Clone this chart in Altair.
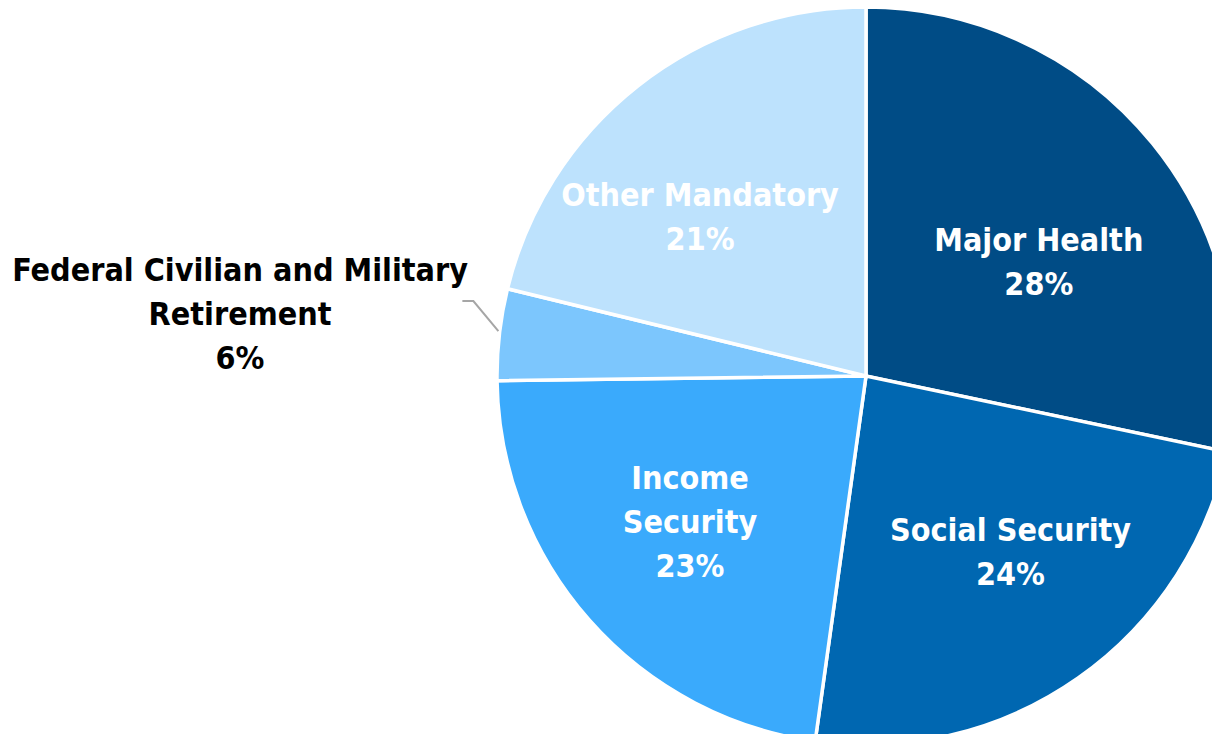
import altair as alt
import pandas as pd
import math

categories = ["Major Health", "Social Security", "Income Security",
              "Federal Civilian and Military Retirement", "Other Mandatory"]
values = [28.3, 23.9, 22.6, 4.0, 21.2]
label_text = ["Major Health\n28%", "Social Security\n24%", "Income\nSecurity\n23%",
              "Federal Civilian and Military\nRetirement\n6%", "Other Mandatory\n21%"]
colors = ["#004c86", "#0067b1", "#3aaafc", "#7cc6fd", "#bde2fd"]

df = pd.DataFrame({"cat": categories, "value": values, "label": label_text,
                   "order": list(range(len(categories)))})

CX, CY, R = 858, 368, 369
FONT = "DejaVu Sans Condensed, Roboto, sans-serif"

base = alt.Chart(df).encode(
    theta=alt.Theta("value:Q", stack=True),
    order=alt.Order("order:Q"),
)

pie = base.mark_arc(stroke="white", strokeWidth=3.5, radius=R).encode(
    color=alt.Color("cat:N", scale=alt.Scale(domain=categories, range=colors), legend=None),
    x=alt.value(CX), y=alt.value(CY),
)

# per-slice label nudges (style only)
nudges = {
    "Major Health": (2, 4, 220, "white"),
    "Social Security": (18, -25, 220, "white"),
    "Income Security": (-11, -42, 220, "white"),
    "Other Mandatory": (-30, -7, 220, "white"),
    "Federal Civilian and Military Retirement": (0, -34, 630, "black"),
}

layers = [pie]
for cat, (dx, dy, rad, col) in nudges.items():
    layers.append(
        base.mark_text(radius=rad, dx=dx, dy=dy, font=FONT, fontSize=32, fontWeight="bold",
                       color=col, lineBreak="\n", lineHeight=44, align="center",
                       baseline="middle").encode(
            text=alt.condition(alt.datum.cat == cat, "label:N", alt.value("")),
            x=alt.value(CX), y=alt.value(CY),
        )
    )

# leader line for the small retirement slice, anchored at its mid angle
start = sum(values[:3])
mid = (start + values[3] / 2) / sum(values) * 2 * math.pi
ex, ey = CX + 372 * math.sin(mid) + 2, CY - 372 * math.cos(mid) - 3
pts = pd.DataFrame({"px": [ex - 36, ex - 25, ex], "py": [ey - 30, ey - 30, ey], "k": [0, 1, 2]})
leader = alt.Chart(pts).mark_line(color="#a6a6a6", strokeWidth=2).encode(
    x=alt.X("px:Q", scale=None, axis=None),
    y=alt.Y("py:Q", scale=None, axis=None),
    order="k:Q",
)
layers.append(leader)

chart = alt.layer(*layers).properties(
    width=1204, height=726, autosize=alt.AutoSizeParams(type="none"), padding=0
).configure_view(stroke=None)

chart.save("out.html", embed_options={"renderer": "svg", "actions": False})
